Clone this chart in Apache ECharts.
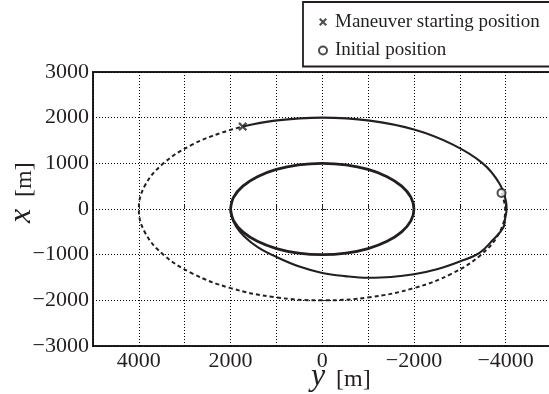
<!DOCTYPE html>
<html><head><meta charset="utf-8">
<script src="https://cdn.jsdelivr.net/npm/echarts@6/dist/echarts.min.js"></script>
<style>html,body{margin:0;padding:0;background:#fff}#c{width:549px;height:394px}</style>
</head><body><div id="c"></div>
<script>
// Tick labels
const xTickLabels = [4000, 2000, 0, -2000, -4000];   // along-track y [m]
const yTickLabels = [3000, 2000, 1000, 0, -1000, -2000, -3000]; // radial x [m]

// Paths as [y, x] pairs
const coastPath = [
  [-3910, 350], [-3990, 0], [-3864, -518], [-3464, -1000], [-2828, -1414],
  [-2000, -1732], [-1035, -1932], [0, -2000], [1035, -1932], [2000, -1732],
  [2828, -1414], [3464, -1000], [3864, -518], [4000, 0], [3864, 518],
  [3464, 1000], [2828, 1414], [2200, 1670], [1735, 1805]
];
const transferPath = [
  [1735, 1805], [1035, 1935], [0, 2000], [-1035, 1935], [-2000, 1740],
  [-2828, 1420], [-3500, 1000], [-3864, 560], [-4010, 150], [-4020, 0],
  [-3990, -200], [-3943, -416], [-3725, -672], [-3430, -960], [-3000, -1150],
  [-2500, -1320], [-2000, -1430], [-1500, -1490], [-1000, -1505], [-500, -1470],
  [0, -1400], [500, -1260], [1000, -1050], [1400, -840], [1700, -600],
  [1880, -380], [1980, -150], [2000, 0]
];
const innerOrbit = [
  [2000, 0], [1932, 259], [1732, 500], [1414, 707], [1000, 866], [518, 966],
  [0, 1000], [-518, 966], [-1000, 866], [-1414, 707], [-1732, 500], [-1932, 259],
  [-2000, 0], [-1932, -259], [-1732, -500], [-1414, -707], [-1000, -866], [-518, -966],
  [0, -1000], [518, -966], [1000, -866], [1414, -707], [1732, -500], [1932, -259], [2000, 0]
];
const maneuverStart = [[1735, 1805]];
const initialPosition = [[-3910, 350]];

const seriesNames = ['Maneuver starting position', 'Initial position'];

const INK = '#231f20';
const SERIF = "'Liberation Serif', 'Times New Roman', serif";
const crossPath = 'path://M0,1.8L1.8,0L5,3.2L8.2,0L10,1.8L6.8,5L10,8.2L8.2,10L5,6.8L1.8,10L0,8.2L3.2,5Z';

function fmt(v) { return v < 0 ? '\u2212' + (-v) : String(v); }

const chart = echarts.init(document.getElementById('c'), null, {renderer: 'canvas'});
chart.setOption({
  animation: false,
  backgroundColor: '#fff',
  grid: {left: 93, top: 72, width: 458.5, height: 274, show: true,
         outerBoundsMode: 'none', containLabel: false,
         borderColor: INK, borderWidth: 2, backgroundColor: 'transparent'},
  xAxis: {
    type: 'value', inverse: true, min: -5000, max: 5000, interval: 1000,
    axisLine: {show: false},
    axisTick: {show: true, inside: true, length: 4, lineStyle: {color: INK, width: 1}},
    axisLabel: {margin: 4, fontFamily: SERIF, fontSize: 22, color: INK,
      formatter: v => xTickLabels.includes(v) ? fmt(v) : ''},
    splitLine: {show: true, lineStyle: {color: '#000', width: 1, type: [1, 2]}}
  },
  yAxis: {
    type: 'value', min: -3000, max: 3000, interval: 1000,
    axisLine: {show: false},
    axisTick: {show: true, inside: true, length: 4, lineStyle: {color: INK, width: 1}},
    axisLabel: {margin: 4, fontFamily: SERIF, fontSize: 22, color: INK,
      formatter: v => yTickLabels.includes(v) ? fmt(v) : ''},
    splitLine: {show: true, lineStyle: {color: '#000', width: 1, type: [1, 2]}}
  },
  legend: {
    orient: 'vertical', left: 303, top: 2,
    padding: [10, 24, 6, 15], itemWidth: 8, itemHeight: 8, itemGap: 8.5,
    borderColor: INK, borderWidth: 1.8, backgroundColor: '#fff',
    selectedMode: false,
    textStyle: {fontFamily: SERIF, fontSize: 19, color: INK, lineHeight: 20, padding: [0, 0, 0, 3]},
    data: [{name: seriesNames[0], icon: crossPath}, {name: seriesNames[1], icon: 'emptyCircle'}]
  },
  graphic: [
    {type: 'text', x: 311, y: 377, z: 100,
     style: {text: 'y', fontFamily: SERIF, fontStyle: 'italic', fontSize: 32, fill: INK, align: 'left', verticalAlign: 'middle'}},
    {type: 'text', x: 336, y: 380, z: 100,
     style: {text: '[m]', fontFamily: SERIF, fontSize: 24, fill: INK, align: 'left', verticalAlign: 'middle'}},
    {type: 'text', x: 21.5, y: 223, rotation: Math.PI / 2, z: 100,
     style: {text: 'x', fontFamily: SERIF, fontStyle: 'italic', fontSize: 32, fill: INK, align: 'left', verticalAlign: 'middle'}},
    {type: 'text', x: 24.5, y: 197, rotation: Math.PI / 2, z: 100,
     style: {text: '[m]', fontFamily: SERIF, fontSize: 24, fill: INK, align: 'left', verticalAlign: 'middle'}}
  ],
  series: [
    {type: 'line', name: 'coast', data: coastPath, symbol: 'none', smooth: 0.4,
     lineStyle: {color: INK, width: 2, type: [4, 3]}, z: 3},
    {type: 'line', name: 'transfer', data: transferPath, symbol: 'none', smooth: 0.4,
     lineStyle: {color: INK, width: 2.1}, z: 4},
    {type: 'line', name: 'inner', data: innerOrbit, symbol: 'none', smooth: 0.4,
     lineStyle: {color: INK, width: 2.8}, z: 4},
    {type: 'scatter', name: seriesNames[0], data: maneuverStart, symbol: crossPath, symbolSize: 9,
     itemStyle: {color: INK}, z: 6},
    {type: 'scatter', name: seriesNames[1], data: initialPosition, symbol: 'emptyCircle', symbolSize: 8,
     itemStyle: {color: INK, borderColor: INK, borderWidth: 1.6}, z: 6}
  ]
});
</script></body></html>
